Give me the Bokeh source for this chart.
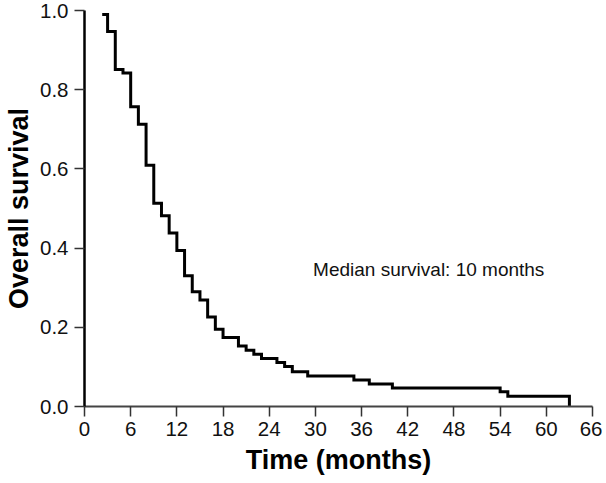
from bokeh.plotting import figure
from bokeh.models import FixedTicker, PrintfTickFormatter, Range1d
from bokeh.core.properties import value
from bokeh.embed import file_html
from bokeh.resources import INLINE

# Kaplan-Meier step data (time in months, survival after the event)
times = [2.3, 3, 4, 5, 6, 7, 8, 9, 10, 11, 12, 13, 14, 15, 16, 17, 18, 20, 21, 22,
         23, 25, 26, 27, 29, 35, 37, 40, 54, 55, 63]
survival = [0.990, 0.947, 0.851, 0.842, 0.757, 0.713, 0.609, 0.513, 0.482, 0.438,
            0.394, 0.330, 0.290, 0.269, 0.226, 0.195, 0.174, 0.153, 0.142, 0.132,
            0.121, 0.111, 0.101, 0.088, 0.077, 0.067, 0.057, 0.047, 0.037, 0.026, 0.0]

x_ticks = [0, 6, 12, 18, 24, 30, 36, 42, 48, 54, 60, 66]
y_ticks = [0.0, 0.2, 0.4, 0.6, 0.8, 1.0]
annotation_text = ["Median survival: 10 months"]
annotation_x = [29.7]
annotation_y = [0.347]

FONT = "Liberation Sans"

p = figure(width=602, height=483, output_backend="svg", toolbar_location=None,
           x_range=Range1d(0, 66), y_range=Range1d(0, 1.0),
           min_border_left=84, min_border_right=10, min_border_top=10, min_border_bottom=77)
p.outline_line_color = None
p.xgrid.grid_line_color = None
p.ygrid.grid_line_color = None
p.background_fill_color = "white"
p.border_fill_color = "white"

p.step(times, survival, mode="after", line_color="black", line_width=3, line_join="miter")

p.text(x=annotation_x, y=annotation_y, text=annotation_text, text_align="left",
       text_baseline="middle", text_font=value(FONT), text_font_size="19px", text_color="#111111")

for ax in (p.xaxis[0], p.yaxis[0]):
    ax.major_tick_in = 0
    ax.major_tick_out = 10
    ax.minor_tick_line_color = None
    ax.major_tick_line_width = 1.5
    ax.major_tick_line_color = "#333333"
    ax.major_label_text_font = FONT
    ax.major_label_text_font_size = "20.5px"
    ax.major_label_text_color = "#111111"
    ax.axis_label_text_font = FONT
    ax.axis_label_text_font_style = "bold"
    ax.axis_label_text_font_size = "27px"
    ax.axis_label_text_color = "black"

p.xaxis.ticker = FixedTicker(ticks=x_ticks)
p.yaxis.ticker = FixedTicker(ticks=y_ticks)
p.yaxis.formatter = PrintfTickFormatter(format="%.1f")
p.xaxis.axis_label = "Time (months)"
p.yaxis.axis_label = "Overall survival"
p.xaxis.axis_line_color = "#444444"
p.xaxis.axis_line_width = 2
p.yaxis.axis_line_color = "black"
p.yaxis.axis_line_width = 2.5
p.xaxis.major_label_standoff = 5
p.yaxis.major_label_standoff = 6
p.xaxis.axis_label_standoff = 6
p.yaxis.axis_label_standoff = 3

open("out.html", "w").write(file_html(p, INLINE))
